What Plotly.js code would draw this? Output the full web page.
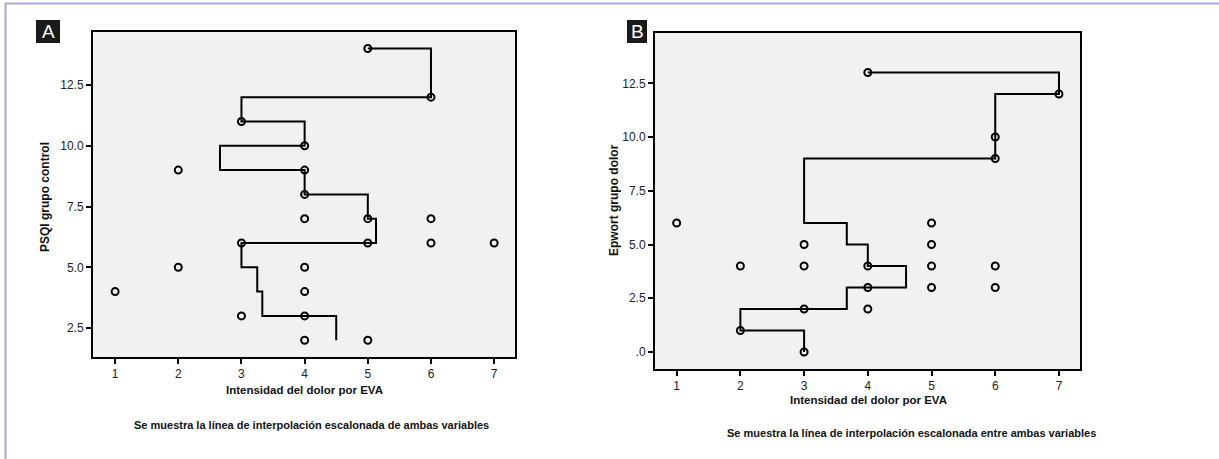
<!DOCTYPE html>
<html>
<head>
<meta charset="utf-8">
<script src="https://cdn.plot.ly/plotly-3.0.1.min.js"></script>
<style>html,body{margin:0;padding:0;background:#fff;}#chart{width:1219px;height:459px;}</style>
</head>
<body>
<div id="chart"></div>
<script>
// Panel A: PSQI grupo control vs Intensidad del dolor por EVA
const aPointsX = [5, 6, 3, 4, 2, 4, 4, 4, 5, 6, 3, 5, 6, 7, 2, 4, 1, 4, 3, 4, 4, 5];
const aPointsY = [14, 12, 11, 10, 9, 9, 8, 7, 7, 7, 6, 6, 6, 6, 5, 5, 4, 4, 3, 3, 2, 2];
const aStepX = [5, 6, 3, 4, 2.66, 4, 5, 5.13, 3, 3.25, 3.33, 4.5];
const aStepY = [14, 12, 11, 10, 9, 8, 7, 6, 5, 4, 3, 2];

// Panel B: Epwort grupo dolor vs Intensidad del dolor por EVA
const bPointsX = [4, 7, 6, 6, 1, 5, 3, 5, 2, 3, 4, 5, 6, 4, 5, 6, 2, 3, 4, 3];
const bPointsY = [13, 12, 10, 9, 6, 6, 5, 5, 4, 4, 4, 4, 4, 3, 3, 3, 1, 2, 2, 0];
const bStepX = [4, 7, 6, 6, 3, 3.67, 4, 4.6, 3.67, 2, 3];
const bStepY = [13, 12, 10, 9, 6, 5, 4, 3, 2, 1, 0];

const xTickVals = [1, 2, 3, 4, 5, 6, 7];
const aYTickVals = [2.5, 5, 7.5, 10, 12.5];
const aYTickText = ["2.5", "5.0", "7.5", "10.0", "12.5"];
const bYTickVals = [0, 2.5, 5, 7.5, 10, 12.5];
const bYTickText = [".0", "2.5", "5.0", "7.5", "10.0", "12.5"];

const W = 1219, H = 459;
const px = x => x / W;
const py = y => 1 - y / H;
const FONT = "Liberation Sans, Arial, sans-serif";

const markerStyle = {symbol: "circle-open", size: 7, color: "#000", line: {width: 2, color: "#000"}};
const lineStyle = {color: "#000", width: 2, shape: "hv"};

const traces = [
  {x: aStepX, y: aStepY, mode: "lines", line: lineStyle, xaxis: "x", yaxis: "y", hoverinfo: "skip"},
  {x: aPointsX, y: aPointsY, mode: "markers", marker: markerStyle, xaxis: "x", yaxis: "y"},
  {x: bStepX, y: bStepY, mode: "lines", line: lineStyle, xaxis: "x2", yaxis: "y2", hoverinfo: "skip"},
  {x: bPointsX, y: bPointsY, mode: "markers", marker: markerStyle, xaxis: "x2", yaxis: "y2"}
];

const axCommon = {
  showline: true, linecolor: "#000", linewidth: 2, mirror: true,
  ticks: "outside", ticklen: 5, tickwidth: 2, tickcolor: "#000",
  showgrid: false, zeroline: false,
  tickfont: {family: FONT, size: 12, color: "#222"}
};

const layout = {
  width: W, height: H,
  margin: {l: 0, r: 0, t: 0, b: 0},
  paper_bgcolor: "#fff",
  plot_bgcolor: "#f0f1f1",
  showlegend: false,
  xaxis: Object.assign({}, axCommon, {domain: [px(93), px(515)], range: [0.65, 7.33], tickvals: xTickVals, anchor: "y"}),
  yaxis: Object.assign({}, axCommon, {domain: [py(357), py(32)], range: [1.31, 14.68], tickvals: aYTickVals, ticktext: aYTickText, anchor: "x"}),
  xaxis2: Object.assign({}, axCommon, {domain: [px(655), px(1080)], range: [0.66, 7.33], tickvals: xTickVals, anchor: "y2"}),
  yaxis2: Object.assign({}, axCommon, {domain: [py(369), py(33)], range: [-0.79, 14.84], tickvals: bYTickVals, ticktext: bYTickText, anchor: "x2"}),
  shapes: [
    {type: "line", xref: "paper", yref: "paper", x0: px(5), x1: px(1219), y0: py(3.5), y1: py(3.5), line: {color: "#a9a6d8", width: 2}},
    {type: "line", xref: "paper", yref: "paper", x0: px(5.5), x1: px(5.5), y0: py(3), y1: py(459), line: {color: "#a9a6d8", width: 2}},
    {type: "rect", xref: "paper", yref: "paper", x0: px(36), x1: px(60), y0: py(43), y1: py(20), fillcolor: "#1a1a1a", line: {width: 0}},
    {type: "rect", xref: "paper", yref: "paper", x0: px(627), x1: px(647), y0: py(43), y1: py(20), fillcolor: "#1a1a1a", line: {width: 0}}
  ],
  annotations: [
    {text: "A", xref: "paper", yref: "paper", x: px(48), y: py(31.5), showarrow: false, font: {family: FONT, size: 19, color: "#fff"}, xanchor: "center", yanchor: "middle"},
    {text: "B", xref: "paper", yref: "paper", x: px(637), y: py(31.5), showarrow: false, font: {family: FONT, size: 19, color: "#fff"}, xanchor: "center", yanchor: "middle"},
    {text: "<b>PSQI grupo control</b>", xref: "paper", yref: "paper", x: px(45), y: py(197), textangle: -90, showarrow: false, font: {family: FONT, size: 12, color: "#111"}, xanchor: "center", yanchor: "middle"},
    {text: "<b>Intensidad del dolor por EVA</b>", xref: "paper", yref: "paper", x: px(304), y: py(390), showarrow: false, font: {family: FONT, size: 11.5, color: "#111"}, xanchor: "center", yanchor: "middle"},
    {text: "<b>Se muestra la línea de interpolación escalonada de ambas variables</b>", xref: "paper", yref: "paper", x: px(311), y: py(425), showarrow: false, font: {family: FONT, size: 11, color: "#111"}, xanchor: "center", yanchor: "middle"},
    {text: "<b>Epwort grupo dolor</b>", xref: "paper", yref: "paper", x: px(614), y: py(200), textangle: -90, showarrow: false, font: {family: FONT, size: 12, color: "#111"}, xanchor: "center", yanchor: "middle"},
    {text: "<b>Intensidad del dolor por EVA</b>", xref: "paper", yref: "paper", x: px(868), y: py(400), showarrow: false, font: {family: FONT, size: 11.5, color: "#111"}, xanchor: "center", yanchor: "middle"},
    {text: "<b>Se muestra la línea de interpolación escalonada entre ambas variables</b>", xref: "paper", yref: "paper", x: px(911), y: py(433), showarrow: false, font: {family: FONT, size: 11, color: "#111"}, xanchor: "center", yanchor: "middle"}
  ]
};

Plotly.newPlot("chart", traces, layout, {displayModeBar: false, staticPlot: true});
</script>
</body>
</html>
